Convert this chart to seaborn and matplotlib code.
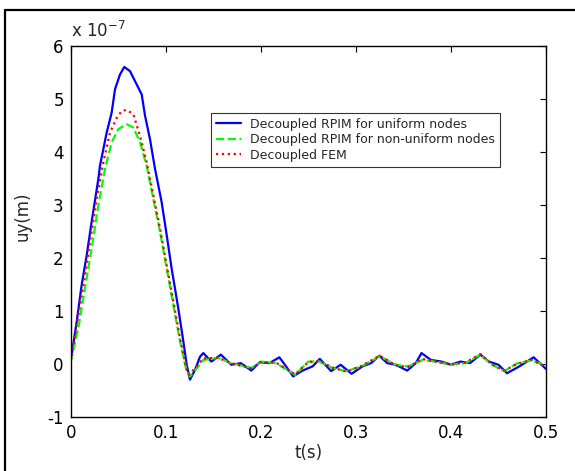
import matplotlib
matplotlib.use("Agg")
import matplotlib.pyplot as plt
import seaborn as sns
import pandas as pd
from matplotlib.lines import Line2D

sns.set_style("white")
plt.rcParams['font.family'] = ['DejaVu Sans']

# values in units of 1e-7 m
t_uniform = [0.0, 0.0063, 0.0115, 0.0168, 0.022, 0.0291, 0.0308, 0.0378, 0.0431, 0.0466,
             0.0519, 0.0564, 0.0624, 0.0694, 0.0747, 0.0782, 0.0834, 0.0887, 0.0957,
             0.101, 0.1062, 0.1132, 0.1185, 0.122, 0.1255, 0.1307, 0.136, 0.1395,
             0.148, 0.158, 0.169, 0.179, 0.190, 0.199, 0.209, 0.2195, 0.2265,
             0.234, 0.244, 0.2545, 0.262, 0.274, 0.284, 0.2955, 0.307, 0.316, 0.3246,
             0.333, 0.342, 0.354, 0.363, 0.369, 0.379, 0.390, 0.400, 0.410, 0.420,
             0.431, 0.440, 0.450, 0.459, 0.472, 0.487, 0.500]
uy_uniform = [0.05, 0.8, 1.49, 2.05, 2.68, 3.49, 3.74, 4.36, 4.74, 5.18,
              5.46, 5.60, 5.52, 5.27, 5.08, 4.68, 4.24, 3.68, 3.05,
              2.43, 1.8, 1.05, 0.43, -0.01, -0.29, -0.11, 0.14, 0.21,
              0.05, 0.18, -0.01, 0.02, -0.12, 0.04, 0.02, 0.13, -0.04,
              -0.23, -0.12, -0.04, 0.10, -0.13, -0.01, -0.18, -0.04, 0.02, 0.16,
              0.02, -0.01, -0.12, 0.02, 0.21, 0.08, 0.05, -0.01, 0.05, 0.02,
              0.18, 0.05, -0.01, -0.17, -0.04, 0.13, -0.09]

t_nonuniform = [0.0, 0.008, 0.015, 0.022, 0.0291, 0.0361, 0.0431, 0.0501, 0.0589, 0.0659,
                0.0729, 0.0799, 0.0869, 0.094, 0.101, 0.108, 0.115, 0.122, 0.1255,
                0.1325, 0.1395, 0.155, 0.169, 0.190, 0.200, 0.216, 0.236, 0.250, 0.262,
                0.275, 0.290, 0.306, 0.325, 0.342, 0.355, 0.370, 0.383, 0.400, 0.415,
                0.431, 0.443, 0.456, 0.470, 0.485, 0.500]
uy_nonuniform = [0.05, 0.68, 1.43, 2.18, 2.99, 3.68, 4.18, 4.43, 4.52, 4.46,
                 4.18, 3.74, 3.11, 2.49, 1.8, 1.11, 0.43, -0.14, -0.23,
                 -0.08, 0.08, 0.12, 0.02, -0.07, 0.05, 0.02, -0.20, 0.05, 0.05,
                 -0.07, -0.13, -0.04, 0.15, -0.01, -0.04, 0.08, 0.05, -0.01, 0.02,
                 0.18, -0.01, -0.13, 0.02, 0.07, -0.02]

t_fem = [0.0, 0.0063, 0.0133, 0.0203, 0.0273, 0.0343, 0.0413, 0.0484, 0.0536, 0.0589,
         0.0659, 0.0729, 0.0799, 0.0869, 0.094, 0.101, 0.108, 0.115, 0.122, 0.1245,
         0.1325, 0.1395, 0.155, 0.169, 0.190, 0.200, 0.216, 0.236, 0.250, 0.262,
         0.275, 0.290, 0.306, 0.325, 0.342, 0.355, 0.370, 0.383, 0.400, 0.415,
         0.431, 0.443, 0.456, 0.470, 0.485, 0.500]
uy_fem = [0.05, 0.74, 1.49, 2.3, 3.11, 3.8, 4.36, 4.64, 4.77, 4.79,
          4.71, 4.3, 3.8, 3.18, 2.55, 1.86, 1.18, 0.49, -0.11, -0.2,
          -0.04, 0.11, 0.12, 0.02, -0.08, 0.04, 0.03, -0.19, 0.04, 0.06,
          -0.06, -0.14, -0.03, 0.16, -0.02, -0.05, 0.10, 0.05, 0.0, 0.03,
          0.19, 0.0, -0.12, 0.01, 0.08, -0.05]

labels = ["Decoupled RPIM for uniform nodes",
          "Decoupled RPIM for non-uniform nodes",
          "Decoupled FEM"]
xticks = [0, 0.1, 0.2, 0.3, 0.4, 0.5]
yticks = [-1, 0, 1, 2, 3, 4, 5, 6]

fig = plt.figure(figsize=(5.75, 4.71), dpi=100)
ax = fig.add_axes([70.7/575, 1 - 417.3/471, (546 - 70.7)/575, (417.3 - 45.7)/471])

styles = [("#0000ff", "-"), ("#00ff00", "--"), ("#ff0000", ":")]
series = [(t_uniform, uy_uniform), (t_nonuniform, uy_nonuniform), (t_fem, uy_fem)]
for (tt, yy), (c, ls), lab in zip(series, styles, labels):
    df = pd.DataFrame({"t": tt, "uy": yy})
    sns.lineplot(data=df, x="t", y="uy", ax=ax, color=c, linestyle=ls,
                 linewidth=1.6, estimator=None, sort=False, label=lab)

ax.set_xlim(0, 0.5)
ax.set_ylim(-1, 6)
ax.set_xticks(xticks)
ax.set_xticklabels([f"{v:g}" for v in xticks])
ax.set_yticks(yticks)
ax.set_yticklabels([f"{v:g}" for v in yticks])
ax.tick_params(direction="in", length=4, width=0.8, top=True, right=True,
               labelsize=12, colors="black", pad=5)
for s in ax.spines.values():
    s.set_color("black")
    s.set_linewidth(1.0)
ax.set_xlabel("t(s)", fontsize=12, labelpad=1)
ax.set_ylabel("uy(m)", fontsize=12)
ax.yaxis.set_label_coords(-0.083, 0.54)
ax.text(0.0, 1.012, r"x 10$^{-7}$", transform=ax.transAxes, fontsize=12,
        ha="left", va="bottom")

handles = [Line2D([], [], color=c, linestyle=ls, linewidth=1.6) for c, ls in styles]
leg = ax.legend(handles, labels, loc="upper left",
                bbox_to_anchor=((210.7 - 70.7)/475.3, 1 - (112.7 - 45.7)/371.6),
                fontsize=9, frameon=True, fancybox=False, handlelength=2.0,
                borderaxespad=0, labelspacing=0.2, handletextpad=0.75, borderpad=0.4)
leg.get_frame().set_edgecolor("black")
leg.get_frame().set_linewidth(0.8)

# outer frame (left and top visible)
fig.add_artist(Line2D([5/575, 5/575], [0, 1 - 10/471], color="black", linewidth=1.6,
                      transform=fig.transFigure))
fig.add_artist(Line2D([5/575, 1], [1 - 10/471, 1 - 10/471], color="black", linewidth=1.6,
                      transform=fig.transFigure))

fig.savefig("out.png", dpi=100)
